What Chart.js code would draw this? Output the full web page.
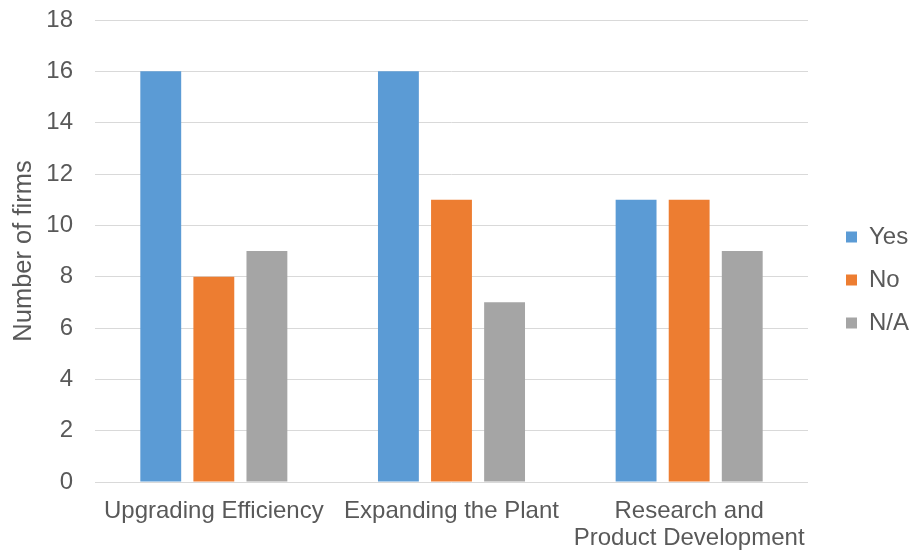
<!DOCTYPE html>
<html>
<head>
<meta charset="utf-8">
<script src="https://cdn.jsdelivr.net/npm/chart.js@4"></script>
<style>
  body { margin: 0; background: #fff; }
  #wrap { width: 912px; height: 552px; }
</style>
</head>
<body>
<div id="wrap"><canvas id="grafico"></canvas></div>
<script>
const categorias = ['Upgrading Efficiency', 'Expanding the Plant', ['Research and', 'Product Development']];
const yes = [16, 16, 11];
const no = [8, 11, 11];
const na = [9, 7, 9];
const ticksY = [0, 2, 4, 6, 8, 10, 12, 14, 16, 18];

const gris = '#595959';
const fuente = { family: 'Liberation Sans, Arial, sans-serif', size: 24 };

Chart.defaults.font.family = fuente.family;
Chart.defaults.color = gris;

// separa la leyenda del area del grafico
const margenLeyenda = {
    id: 'margenLeyenda',
    afterInit(chart) {
        const leyenda = chart.legend;
        const fitOriginal = leyenda.fit;
        leyenda.fit = function() {
            fitOriginal.call(this);
            this.width += 12;
        };
    },
    afterLayout(chart) {
        chart.legend.left += 19;
        chart.legend.right += 19;
        chart.legend.top += 4;
        chart.legend.bottom += 4;
    }
};

new Chart(document.getElementById('grafico').getContext('2d'), {
    type: 'bar',
    data: {
        labels: categorias,
        datasets: [
            { label: 'Yes', data: yes, backgroundColor: '#5B9BD5' },
            { label: 'No', data: no, backgroundColor: '#ED7D31' },
            { label: 'N/A', data: na, backgroundColor: '#A5A5A5' }
        ]
    },
    options: {
        responsive: true,
        maintainAspectRatio: false,
        animation: false,
        datasets: {
            bar: { categoryPercentage: 0.67, barPercentage: 0.77 }
        },
        layout: { padding: 0 },
        scales: {
            x: {
                grid: { display: false },
                border: { display: false },
                afterFit: function(scale) { scale.height = 70; },
                ticks: {
                    font: { family: fuente.family, size: fuente.size, lineHeight: 1.12 },
                    color: gris, padding: 8, maxRotation: 0, autoSkip: false
                }
            },
            y: {
                min: 0,
                max: 18,
                afterBuildTicks: function(scale) {
                    scale.ticks = ticksY.map(v => ({ value: v }));
                },
                afterFit: function(scale) {
                    scale.width = 95;
                    scale.paddingTop = 20;
                    scale.paddingBottom = 0;
                },
                grid: { color: '#D9D9D9', lineWidth: 1, drawTicks: false },
                border: { display: false },
                ticks: { font: fuente, color: gris, padding: 22 },
                title: {
                    display: true,
                    text: 'Number of firms',
                    font: { family: fuente.family, size: 25.5 },
                    color: gris,
                    padding: { top: 9, bottom: 0 }
                }
            }
        },
        plugins: {
            legend: {
                position: 'right',
                labels: {
                    font: fuente,
                    color: gris,
                    boxWidth: 11,
                    boxHeight: 11,
                    padding: 19
                }
            },
            tooltip: { enabled: false }
        }
    },
    plugins: [margenLeyenda]
});
</script>
</body>
</html>
